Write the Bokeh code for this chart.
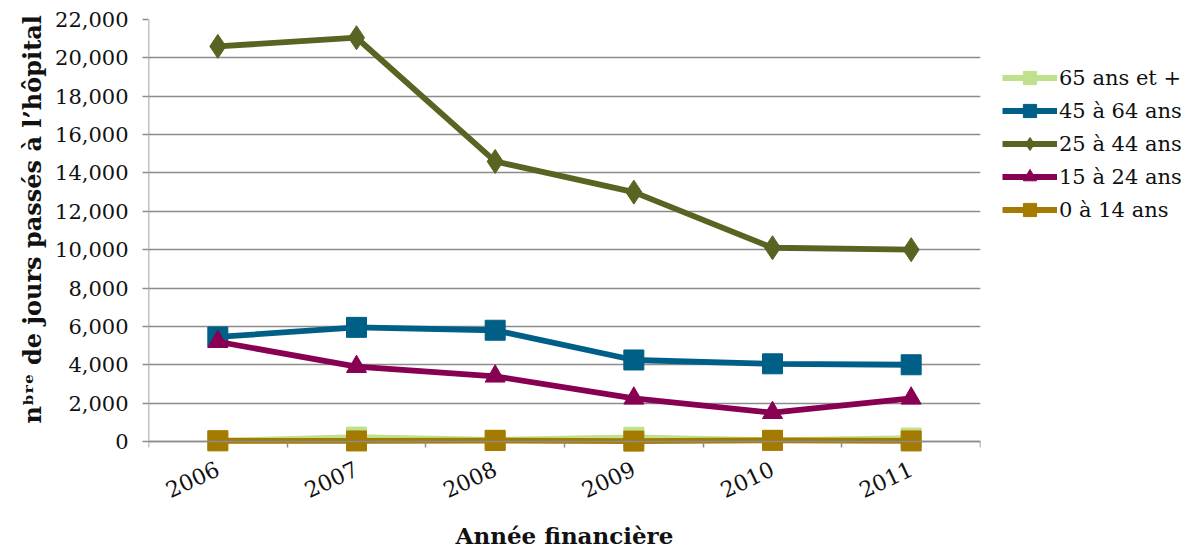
from bokeh.plotting import figure
from bokeh.models import (Range1d, FixedTicker, NumeralTickFormatter, Legend,
                          LegendItem, LinearAxis)
from bokeh.embed import file_html
from bokeh.resources import INLINE

# Hospital days by age group, per financial year
years = ["2006", "2007", "2008", "2009", "2010", "2011"]
ans_65_plus = [30, 230, 80, 220, 60, 180]
ans_45_64 = [5450, 5950, 5800, 4250, 4050, 4000]
ans_25_44 = [20600, 21050, 14600, 13000, 10100, 10000]
ans_15_24 = [5200, 3900, 3400, 2250, 1500, 2250]
ans_0_14 = [40, 30, 50, 20, 60, 30]

series_names = ["65 ans et +", "45 à 64 ans", "25 à 44 ans", "15 à 24 ans", "0 à 14 ans"]
y_ticks = list(range(0, 22001, 2000))

Y_MAX = y_ticks[-1]
# leave a little room below zero so the markers sitting on the axis are not cut
y_lo = -Y_MAX * 11 / 422

FONT = "DejaVu Serif"
GRID = "#8c8c8c"
INK = "#111111"

xs = list(range(len(years)))

p = figure(frame_width=832, frame_height=433,
           x_range=Range1d(-0.5, len(years) - 0.5),
           y_range=Range1d(y_lo, Y_MAX),
           output_backend="svg", toolbar_location=None,
           min_border_left=148, min_border_right=224,
           min_border_top=19, min_border_bottom=96)
p.outline_line_color = None
p.background_fill_color = "white"

# y axis
p.yaxis.ticker = FixedTicker(ticks=y_ticks)
p.yaxis.formatter = NumeralTickFormatter(format="0,0")
p.yaxis.axis_line_color = None
p.yaxis.major_tick_line_color = GRID
p.yaxis.major_tick_line_width = 1.5
p.yaxis.major_tick_out = 6
p.yaxis.major_tick_in = 0
p.yaxis.minor_tick_line_color = None
p.yaxis.major_label_text_font = FONT
p.yaxis.major_label_text_font_size = "21px"
p.yaxis.major_label_text_color = INK
p.yaxis.major_label_standoff = 14
# non-breaking spaces nudge the title slightly above the frame centre
p.yaxis.axis_label = "\u00a0\u00a0\u00a0\u00a0nᵇʳᵉ de jours passés à l’hôpital"
p.yaxis.axis_label_text_font = FONT
p.yaxis.axis_label_text_font_style = "bold"
p.yaxis.axis_label_text_font_size = "24px"
p.yaxis.axis_label_text_color = INK
p.yaxis.axis_label_standoff = 5

# bottom axis: year labels and title only
xt = FixedTicker(ticks=xs, minor_ticks=[i - 0.5 for i in range(len(years) + 1)])
p.xaxis.ticker = xt
p.xaxis.major_label_overrides = {i: y for i, y in enumerate(years)}
p.xaxis.axis_line_color = None
p.xaxis.major_tick_line_color = None
p.xaxis.minor_tick_line_color = None
p.xaxis.major_label_orientation = 0.44
p.xaxis.major_label_text_font = FONT
p.xaxis.major_label_text_font_size = "22px"
p.xaxis.major_label_text_color = INK
p.xaxis.major_label_standoff = 9
p.xaxis.axis_label = "Année financière"
p.xaxis.axis_label_text_font = FONT
p.xaxis.axis_label_text_font_style = "bold"
p.xaxis.axis_label_text_font_size = "23px"
p.xaxis.axis_label_text_color = INK
p.xaxis.axis_label_standoff = 13

# axis line on zero, with ticks between the years
zero_axis = LinearAxis(ticker=xt, fixed_location=0)
zero_axis.major_label_text_font_size = "0px"
zero_axis.major_label_text_color = None
zero_axis.major_tick_out = 0
zero_axis.major_tick_in = 0
zero_axis.minor_tick_out = 6
zero_axis.minor_tick_in = 0
zero_axis.minor_tick_line_color = GRID
zero_axis.minor_tick_line_width = 1.5
zero_axis.axis_line_color = GRID
zero_axis.axis_line_width = 1.6
p.add_layout(zero_axis, "below")

p.xgrid.grid_line_color = None
p.ygrid.ticker = FixedTicker(ticks=y_ticks)
p.ygrid.grid_line_color = GRID
p.ygrid.grid_line_width = 1.6

# vertical axis line from zero to the top of the scale
p.segment(x0=[p.x_range.start], y0=[0], x1=[p.x_range.start], y1=[Y_MAX],
          line_color=GRID, line_width=1.6)

styles = [
    (ans_65_plus, "#bfe08c", "square", 20),
    (ans_45_64, "#005f87", "square", 20),
    (ans_25_44, "#586421", "diamond", 24),
    (ans_15_24, "#870052", "triangle", 20),
    (ans_0_14, "#a57a00", "square", 20),
]

items = []
for name, (vals, color, marker, size) in zip(series_names, styles):
    lr = p.line(xs, vals, line_color=color, line_width=5.8)
    sr = p.scatter(xs, vals, marker=marker, size=size, fill_color=color,
                   line_color=color)
    items.append(LegendItem(label=name, renderers=[lr, sr]))

legend = Legend(items=items, location=(22, 226))
legend.padding = 0
legend.margin = 0
legend.spacing = 0
legend.glyph_width = 55
legend.glyph_height = 33
legend.label_height = 33
legend.label_standoff = 2
legend.label_text_font = FONT
legend.label_text_font_size = "21px"
legend.label_text_color = INK
legend.border_line_color = None
legend.background_fill_alpha = 0
p.add_layout(legend, "right")

open("out.html", "w").write(file_html(p, INLINE))
